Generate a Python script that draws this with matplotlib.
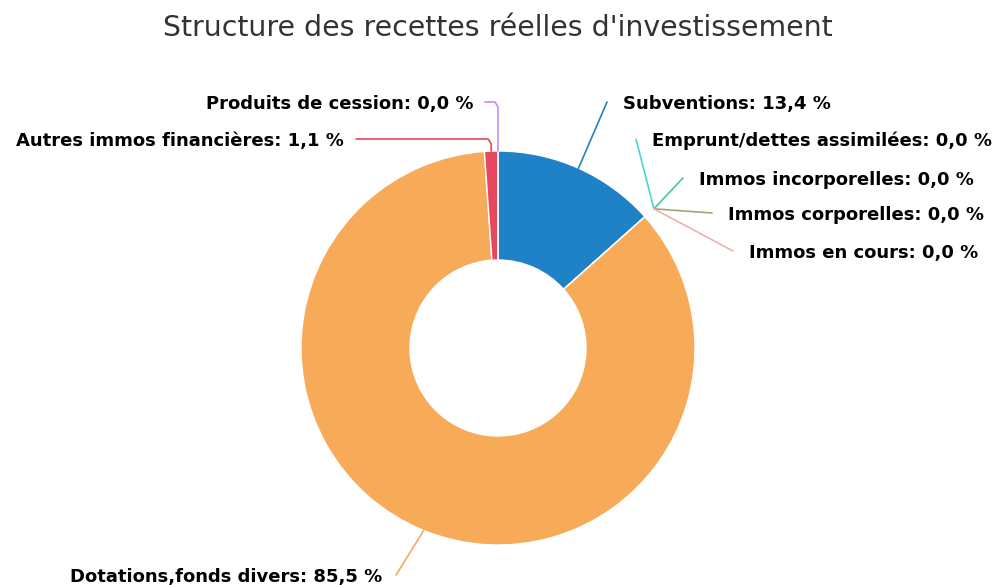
import numpy as np
import matplotlib
matplotlib.use("Agg")
import matplotlib.pyplot as plt

# données
categories = ["Subventions", "Emprunt/dettes assimilées", "Immos incorporelles",
              "Immos corporelles", "Immos en cours", "Dotations,fonds divers",
              "Autres immos financières", "Produits de cession"]
values = [13.4, 0.0, 0.0, 0.0, 0.0, 85.5, 1.1, 0.0]
colors = ["#1f82c6", "#4fd3d3", "#44c6a6", "#a8a27a", "#e8b4ac", "#f7aa58", "#e8485f", "#c58cf5"]

# position des étiquettes (pixels, origine en haut à gauche)
label_pos = [(623, 104, "left"), (652, 141, "left"), (699, 180, "left"),
             (728, 215, "left"), (749, 253, "left"), (382, 577, "right"),
             (344, 141, "right"), (473, 104, "right")]

W, H = 1000, 585
cx, cy, r_out, r_in = 498, 348, 197, 88


def Y(y):
    return H - y


fig = plt.figure(figsize=(10, 5.85), dpi=100)
ax = fig.add_axes([0, 0, 1, 1])
ax.pie(values, colors=colors, startangle=90, counterclock=False,
       center=(cx, Y(cy)), radius=r_out,
       wedgeprops=dict(width=r_out - r_in, edgecolor="white", linewidth=1))
ax.set_xlim(0, W)
ax.set_ylim(0, H)
ax.set_aspect("equal")
ax.axis("off")

fig.text(0.498, 1 - 28 / H, "Structure des recettes réelles d'investissement",
         ha="center", va="center", fontsize=20.4, color="#333333")

# étiquettes et connecteurs
cum = np.cumsum([0] + values[:-1])
for i, (cat, v) in enumerate(zip(categories, values)):
    mid = (cum[i] + v / 2) / 100 * 2 * np.pi
    lx, ly, ha = label_pos[i]
    r0 = r_out + 12 if (v == 0 and ha == "left") else r_out
    ex, ey = cx + r0 * np.sin(mid), cy - r0 * np.cos(mid)
    txt = f"{cat}: {v:.1f} %".replace(".", ",")
    if ha == "left":
        pts = [(ex, ey), (lx - 16, ly - 2)]
    elif i == 5:
        pts = [(ex, ey), (lx + 14, ly - 2)]
    else:
        pts = [(lx + 12, ly - 2), (ex - 3, ly - 2), (ex, ly + 3), (ex, ey)]
    xs = [p[0] for p in pts]
    ys = [Y(p[1]) for p in pts]
    ax.plot(xs, ys, color=colors[i], lw=1.2, solid_capstyle="round")
    ax.text(lx, Y(ly), txt, ha=ha, va="center", fontsize=13,
            fontweight="bold", color="#000000")

fig.savefig("out.png", dpi=100)
